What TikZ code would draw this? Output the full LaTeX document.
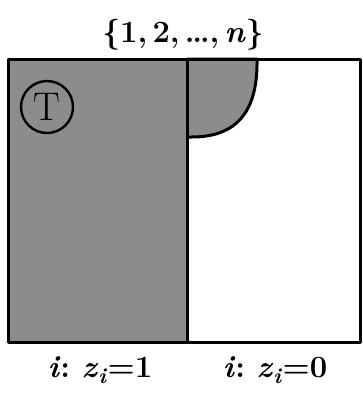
\documentclass[tikz,border=0pt]{standalone}
\usepackage{fontspec}
\usepackage{tikz}
\usetikzlibrary{positioning}

\newcommand{\idx}[1]{\textit{#1}}

\begin{document}
\begin{tikzpicture}[
  x=1pt, y=-1pt,
  outline/.style={line width=3pt, line join=round},
  shade/.style={fill=black!45},
  txt/.style={font=\fontsize{31}{36}\selectfont\bfseries, inner sep=0pt}
]
\useasboundingbox (0,0) rectangle (362,394);
% shaded part and bump
\fill[shade] (8,59) rectangle (187,342);
\filldraw[shade, outline] (187,59) -- (257,59) .. controls (258,110) and (238,137) .. (192,137) -- (187,137);
% outer box and divider
\draw[outline] (8,59) rectangle (360,342);
\draw[outline] (187,59) -- (187,342);
% texts
\node[draw, circle, line width=2.4pt, minimum size=52pt, txt, font=\fontsize{40}{44}\selectfont] (T) at (47,107) {T};
\node[txt] (set) at (183,35) {\{1,\,2,\,\ldots,\,\idx{n}\}};
\node[txt] (one) at (100,370) {\idx{i}:\ \idx{z}\textsubscript{\idx{i}}=1};
\node[txt] (zero) at (275,370) {\idx{i}:\ \idx{z}\textsubscript{\idx{i}}=0};
\end{tikzpicture}
\end{document}
